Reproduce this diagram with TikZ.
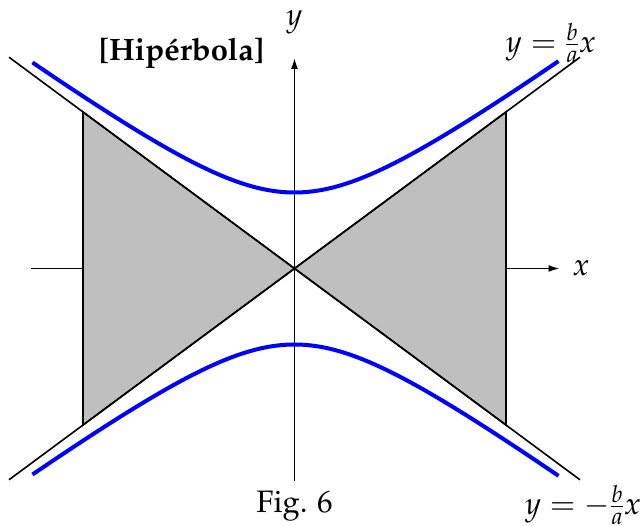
\documentclass[tikz,border=0pt]{standalone}
\usepackage[T1]{fontenc}
\usepackage{mathpazo}
\usetikzlibrary{arrows.meta}
\begin{document}
\begin{tikzpicture}[x=1pt,y=1pt,
  axis/.style={line width=1.6pt,-{Latex[length=11pt,width=7pt]}},
  asym/.style={line width=1.6pt},
  shade/.style={fill=black!25,draw=black,line width=1.6pt,line join=miter},
  hyp/.style={blue,line width=4pt},
  lbl/.style={inner sep=0pt,font=\fontsize{31}{36}\selectfont}]
\useasboundingbox (-294.5,-257.5) rectangle (345.5,268.5);
\coordinate (O) at (0,0);
\coordinate (xl) at (-263.5,0);
\coordinate (xr) at (265,0);
\coordinate (yb) at (0,-212.5);
\coordinate (yt) at (0,210.5);
\coordinate (ul) at (-285.5,211.3);
\coordinate (lr) at (285.5,-211.3);
\coordinate (ur) at (285.5,211.3);
\coordinate (ll) at (-285.5,-211.3);
\coordinate (gl1) at (-211.5,156.5);
\coordinate (gl2) at (-211.5,-156.5);
\coordinate (gr1) at (211.5,156.5);
\coordinate (gr2) at (211.5,-156.5);
% x axis (behind the shading)
\draw[axis] (xl) -- (xr);
% shaded regions
\draw[shade] (O) -- (gl1) -- (gl2) -- cycle;
\draw[shade] (O) -- (gr1) -- (gr2) -- cycle;
% asymptotes
\draw[asym] (ul) -- (lr);
\draw[asym] (ll) -- (ur);
% y axis
\draw[axis] (yb) -- (yt);
% hyperbola
\draw[hyp] plot[domain=-262:264,samples=120,smooth] (\x,{76*sqrt(1+(\x/104)^2)});
\draw[hyp] plot[domain=-262:264,samples=120,smooth] (\x,{-76*sqrt(1+(\x/104)^2)});
% labels
\node[lbl] (ylab) at (0,246.5) {$y$};
\node[lbl] (xlab) at (286.5,0) {$x$};
\node[lbl,font=\fontsize{31}{36}\selectfont\bfseries] (title) at (-113,215.5) {[Hip\'erbola]};
\node[lbl] (l1) at (256.5,225.5) {$y=\frac{b}{a}x$};
\node[lbl] (l2) at (288.5,-236.5) {$y=-\frac{b}{a}x$};
\node[lbl] (fig) at (0,-237.5) {Fig. 6};
\end{tikzpicture}
\end{document}
